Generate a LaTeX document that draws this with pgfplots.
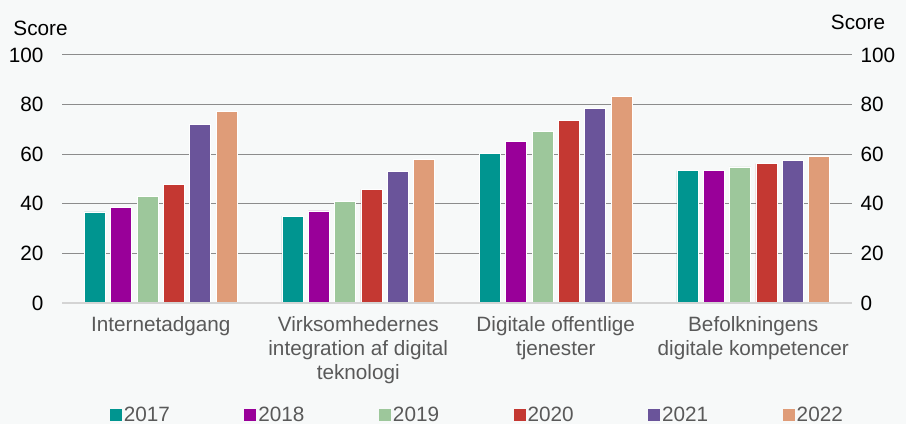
\documentclass[border=0pt]{standalone}
\usepackage{fontspec}
\setmainfont{Liberation Sans}
\usepackage{pgfplots}
\pgfplotsset{compat=1.18}
\definecolor{bgcol}{HTML}{F7F9F9}
\definecolor{gridcol}{HTML}{8C8C8C}
\definecolor{axiscol}{HTML}{D4D4D4}
\definecolor{labelcol}{HTML}{595959}
\definecolor{cA}{HTML}{009590}
\definecolor{cB}{HTML}{990099}
\definecolor{cC}{HTML}{9DC79B}
\definecolor{cD}{HTML}{C43832}
\definecolor{cE}{HTML}{6A549A}
\definecolor{cF}{HTML}{DF9C78}
\newcommand{\chartfont}{\fontsize{20.8}{24}\selectfont}

\begin{document}
\begin{tikzpicture}
\fill[bgcol] (-62bp,-121bp) rectangle (844bp,303bp);
\path[use as bounding box] (-62bp,-121bp) rectangle (844bp,303bp);

\begin{axis}[
  scale only axis,
  width=790bp, height=248bp,
  xmin=-0.5, xmax=3.5, ymin=0, ymax=100,
  ybar, bar width=0.106,
  axis line style={draw=none},
  tick style={draw=none},
  ymajorgrids, grid style={gridcol, line width=1bp},
  ytick={0,20,...,100},
  /pgf/number format/assume math mode=true,
  yticklabel style={font=\chartfont, text=black, xshift=-15bp},
  xtick={0,1,2,3},
  xticklabels={Internetadgang,
    {Virksomhedernes\\integration af digital\\teknologi},
    {Digitale offentlige\\tjenester},
    {Befolkningens\\digitale kompetencer}},
  xticklabel style={align=center, font=\chartfont, text=labelcol, yshift=-6bp},
  every axis plot/.append style={draw=white, line width=0.6bp},
  legend columns=6,
  legend style={at={(axis description cs:0.0565,-0.4516)}, anchor=west,
    draw=none, fill=none, font=\chartfont, text=labelcol,
    /tikz/every even column/.append style={column sep=72.5bp}},
  legend image code/.code={\fill[#1, draw=none] (0bp,-6bp) rectangle (12bp,6bp);},
]
\addplot[fill=cA, bar shift=-0.3333] coordinates {(0,36.7) (1,35.0) (2,60.4) (3,53.4)};
\addlegendentry{2017}
\addplot[fill=cB, bar shift=-0.2] coordinates {(0,38.7) (1,37.1) (2,65.1) (3,53.5)};
\addlegendentry{2018}
\addplot[fill=cC, bar shift=-0.0667] coordinates {(0,43.0) (1,41.0) (2,69.1) (3,54.9)};
\addlegendentry{2019}
\addplot[fill=cD, bar shift=0.0667] coordinates {(0,47.8) (1,45.7) (2,73.6) (3,56.2)};
\addlegendentry{2020}
\addplot[fill=cE, bar shift=0.2] coordinates {(0,72.1) (1,53.0) (2,78.4) (3,57.4)};
\addlegendentry{2021}
\addplot[fill=cF, bar shift=0.3333] coordinates {(0,77.1) (1,58.0) (2,83.2) (3,59.1)};
\addlegendentry{2022}
\draw[axiscol, line width=2bp] (axis cs:-0.5,0) -- (axis cs:3.5,0);
\end{axis}

\begin{axis}[
  scale only axis,
  width=790bp, height=248bp,
  xmin=-0.5, xmax=3.5, ymin=0, ymax=100,
  hide x axis,
  axis line style={draw=none},
  tick style={draw=none},
  yticklabel pos=right,
  ytick={0,20,...,100},
  /pgf/number format/assume math mode=true,
  yticklabel style={font=\chartfont, text=black, xshift=5bp},
]
\addplot[draw=none] coordinates {(0,0)};
\end{axis}

\node[font=\chartfont] at (-21.5bp,275bp) {Score};
\node[font=\chartfont] at (796bp,281bp) {Score};
\end{tikzpicture}
\end{document}
